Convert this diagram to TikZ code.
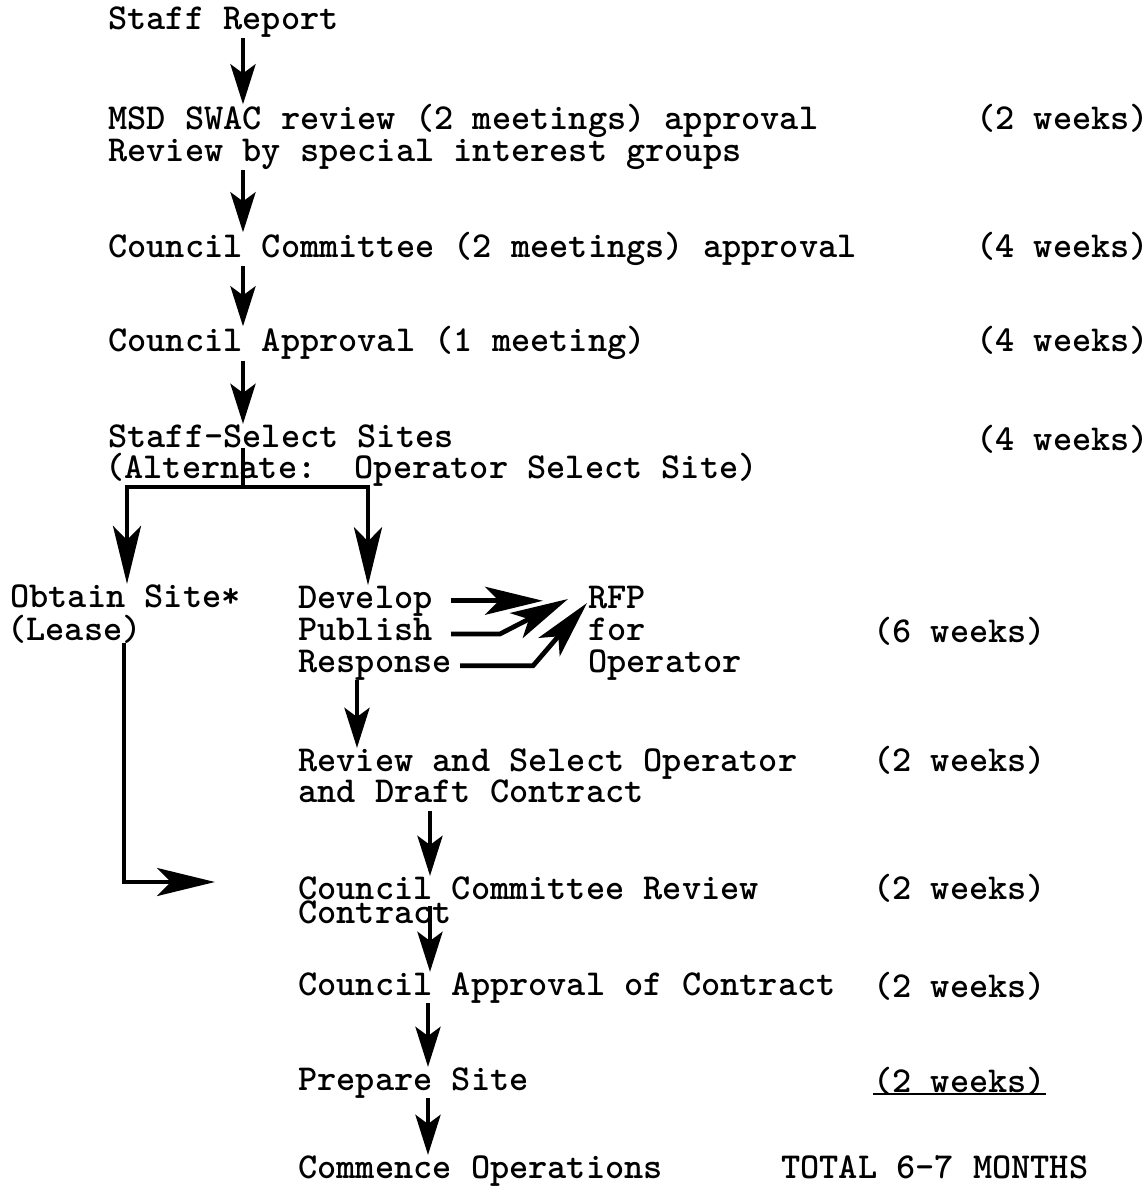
\documentclass[tikz,border=0pt]{standalone}
\usepackage{tikz}
\usetikzlibrary{arrows.meta,calc}

\begin{document}
\begin{tikzpicture}[
    x=0.02cm, y=-0.02cm,
    >=Stealth,
    txt/.style={inner sep=0pt, anchor=base west, font=\fontsize{20.8}{18.2}\selectfont\ttfamily\bfseries\frenchspacing},
    flow/.style={line width=2.7pt, -{Stealth[length=0.8cm, width=0.5cm, inset=0.18cm]}},
    longflow/.style={line width=2.7pt, -{Stealth[length=1.16cm, width=0.56cm, inset=0.28cm]}},
    plain/.style={line width=2.7pt},
]
\useasboundingbox (0,0) rectangle (1147,1192);

% --- arrow columns ---
\coordinate (colA) at (243,0);
\coordinate (lcol) at (127,0);
\coordinate (rcol) at (368,0);
\coordinate (obx) at (124,0);
\coordinate (colB) at (357,0);
\coordinate (colC) at (430,0);
\coordinate (colD) at (428,0);
\coordinate (fork) at (243,487);
\coordinate (oend) at (215,882);

% --- upper steps ---
\node[txt] (staff) at (108,30) {Staff Report};
\node[txt] (msd) at (108,130) {MSD SWAC review (2 meetings) approval};
\node[txt] (sig) at (108,162) {Review by special interest groups};
\node[txt] (ccom) at (108,258) {Council Committee (2 meetings) approval};
\node[txt] (capp) at (108,352) {Council Approval (1 meeting)};
\node[txt] (sss) at (108,447) {Staff-Select Sites};
\node[txt] (alt) at (105,478) {(Alternate:\ \ Operator Select Site)};

% --- upper durations ---
\node[txt] (wk1) at (976,130) {(2 weeks)};
\node[txt] (wk2) at (976,258) {(4 weeks)};
\node[txt] (wk3) at (976,352) {(4 weeks)};
\node[txt] (wk4) at (976,450) {(4 weeks)};

% --- two branches ---
\node[txt] (obtain) at (10,607) {Obtain Site*};
\node[txt] (lease) at (7,640) {(Lease)};
\node[txt] (dev) at (298,608) {Develop};
\node[txt] (pub) at (298,640) {Publish};
\node[txt] (resp) at (298,672) {Response};
\node[txt] (rfp) at (588,608) {RFP};
\node[txt] (rfp2) at (588,640) {for};
\node[txt] (rfp3) at (588,672) {Operator};
\node[txt] (wk5) at (873,642) {(6 weeks)};

% --- lower steps ---
\node[txt] (rso) at (298,771) {Review and Select Operator};
\node[txt] (dft) at (298,802) {and Draft Contract};
\node[txt] (ccr) at (298,899) {Council Committee Review};
\node[txt] (ccr2) at (298,923) {Contract};
\node[txt] (caoc) at (298,995) {Council Approval of Contract};
\node[txt] (prep) at (298,1090) {Prepare Site};
\node[txt] (comm) at (298,1178) {Commence Operations};

% --- lower durations ---
\node[txt] (wk6) at (873,771) {(2 weeks)};
\node[txt] (wk7) at (873,899) {(2 weeks)};
\node[txt] (wk8) at (873,997) {(2 weeks)};
\node[txt] (wk9) at (873,1092) {(2 weeks)};
\node[txt] (total) at (781,1178) {TOTAL 6-7 MONTHS};
\draw[line width=1.3pt] ($(wk9.south west)+(0,-1)$) -- ($(wk9.south east)+(0,-1)$);

% --- main column ---
\draw[flow] (staff.south -| colA) -- (msd.north -| colA);
\draw[flow] (sig.south -| colA) -- (ccom.north -| colA);
\draw[flow] (ccom.south -| colA) -- (capp.north -| colA);
\draw[flow] (capp.south -| colA) -- (sss.north -| colA);

% --- fork ---
\draw[plain] (sss.south -| colA) -- (fork);
\draw[longflow] (fork) -| (obtain.north -| lcol);
\draw[longflow] (fork) -| (dev.north -| rcol);
\draw[longflow] (lease.south -| obx) |- (oend);

% --- RFP ---
\coordinate (bendP) at (500,0);
\coordinate (bendR) at (533,0);
\coordinate (tipD) at (543,598);
\coordinate (tipP) at (568,599);
\coordinate (tipR) at (587,603);
\draw[longflow, shorten <=0.36cm] (dev.east) -- (dev.east -| tipD);
\draw[longflow] ($(pub.east)+(18,5)$) -- ($(pub.east -| bendP)+(0,5)$) -- (tipP);
\draw[longflow] ($(resp.east)+(8,1)$) -- ($(resp.east -| bendR)+(0,1)$) -- (tipR);

% --- lower column ---
\draw[flow] (resp.south -| colB) -- (rso.north -| colB);
\draw[flow, shorten <=0.16cm] (dft.south -| colC) -- (ccr.north -| colC);
\draw[flow, shorten <=0.12cm] (ccr.south -| colC) -- (caoc.north -| colC);
\draw[flow] (caoc.south -| colD) -- (prep.north -| colD);
\draw[flow] (prep.south -| colD) -- (comm.north -| colD);

\end{tikzpicture}
\end{document}
